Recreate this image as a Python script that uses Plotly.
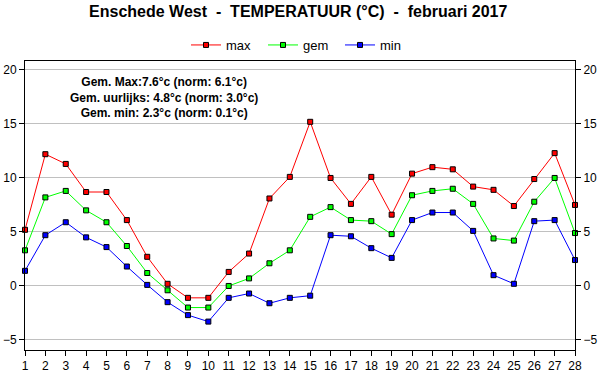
import plotly.graph_objects as go

days = list(range(1, 29))
tmax = [5.2, 12.2, 11.3, 8.7, 8.7, 6.1, 2.7, 0.2, -1.1, -1.1, 1.3, 3.0, 8.1, 10.1,
        15.2, 10.0, 7.6, 10.1, 6.6, 10.4, 11.0, 10.8, 9.2, 8.9, 7.4, 9.9, 12.3, 7.5]
tgem = [3.3, 8.2, 8.8, 7.0, 5.9, 3.7, 1.2, -0.4, -2.0, -2.0, 0.0, 0.7, 2.1, 3.3,
        6.4, 7.3, 6.1, 6.0, 4.8, 8.4, 8.8, 9.0, 7.6, 4.4, 4.2, 7.8, 10.0, 4.9]
tmin = [1.4, 4.7, 5.9, 4.5, 3.6, 1.8, 0.1, -1.5, -2.7, -3.3, -1.1, -0.7, -1.6, -1.1,
        -0.9, 4.7, 4.6, 3.5, 2.6, 6.1, 6.8, 6.8, 5.1, 1.0, 0.2, 6.0, 6.1, 2.4]
series_names = ["max", "gem", "min"]
series_colors = ["#ff0000", "#00ff00", "#0000ff"]
y_ticks = [-5, 0, 5, 10, 15, 20]
title_text = "Enschede West\u00a0 -\u00a0 TEMPERATUUR (°C)\u00a0 -\u00a0 februari 2017"
note_lines = ["Gem. Max:7.6°c (norm: 6.1°c)",
              "Gem. uurlijks: 4.8°c (norm: 3.0°c)",
              "Gem. min: 2.3°c (norm: 0.1°c)"]

FONT = "Liberation Sans, Arial, sans-serif"
YR = [-5.93, 20.83]
PH = 289.0

fig = go.Figure()
for name, vals, col in zip(series_names, [tmax, tgem, tmin], series_colors):
    fig.add_trace(go.Scatter(
        x=days, y=vals, name=name, mode="lines+markers",
        line=dict(color=col, width=1),
        marker=dict(symbol="square", size=5, color=col,
                    line=dict(color="black", width=1)),
        cliponaxis=False,
    ))
# invisible trace for right axis
fig.add_trace(go.Scatter(x=[days[0]], y=[y_ticks[0]], yaxis="y2", showlegend=False,
                         mode="markers", marker=dict(opacity=0), hoverinfo="skip"))

fig.update_layout(
    width=600, height=390,
    margin=dict(l=25, r=25, t=61, b=40, autoexpand=False),
    paper_bgcolor="white", plot_bgcolor="white",
    font=dict(family=FONT, size=12, color="black"),
    title=dict(text=title_text, x=0.497, xanchor="center", xref="container",
               y=1 - 11/390, yanchor="middle", yref="container",
               font=dict(family=FONT, size=16, color="black", weight="bold")),
    legend=dict(orientation="h", x=(186 - 25) / 550, xanchor="left",
                y=(350 - 45) / PH, yanchor="middle",
                font=dict(size=13), entrywidth=32, entrywidthmode="pixels",
                itemwidth=30, bgcolor="rgba(0,0,0,0)"),
    xaxis=dict(range=[1, 28], tickmode="array", tickvals=days, automargin=False,
               ticks="outside", ticklen=5, tickcolor="black",
               showline=True, linecolor="black", linewidth=1, mirror=True,
               showgrid=False, zeroline=False, tickfont=dict(size=12)),
    yaxis=dict(range=YR, tickmode="array", tickvals=y_ticks, automargin=False,
               ticks="outside", ticklen=5, tickcolor="black",
               showline=True, linecolor="black", linewidth=1,
               showgrid=True, gridcolor="#c0c0c0", gridwidth=1,
               zeroline=False, tickfont=dict(size=12)),
    yaxis2=dict(range=YR, tickmode="array", tickvals=y_ticks, overlaying="y",
                side="right", ticks="outside", ticklen=5, tickcolor="black",
                automargin=False,
                showline=True, linecolor="black", linewidth=1,
                showgrid=False, zeroline=False, tickfont=dict(size=12)),
    showlegend=True,
)

fig.add_annotation(text="<br>".join(note_lines), xref="paper", yref="paper",
                   x=(164 - 25) / 550, y=(350 - 97) / PH, xanchor="center",
                   yanchor="middle", showarrow=False, align="center",
                   font=dict(family=FONT, size=12, color="black", weight="bold"))

fig.write_html("out.html", config={"displayModeBar": False},
               post_script="document.body.style.margin='0px';")
